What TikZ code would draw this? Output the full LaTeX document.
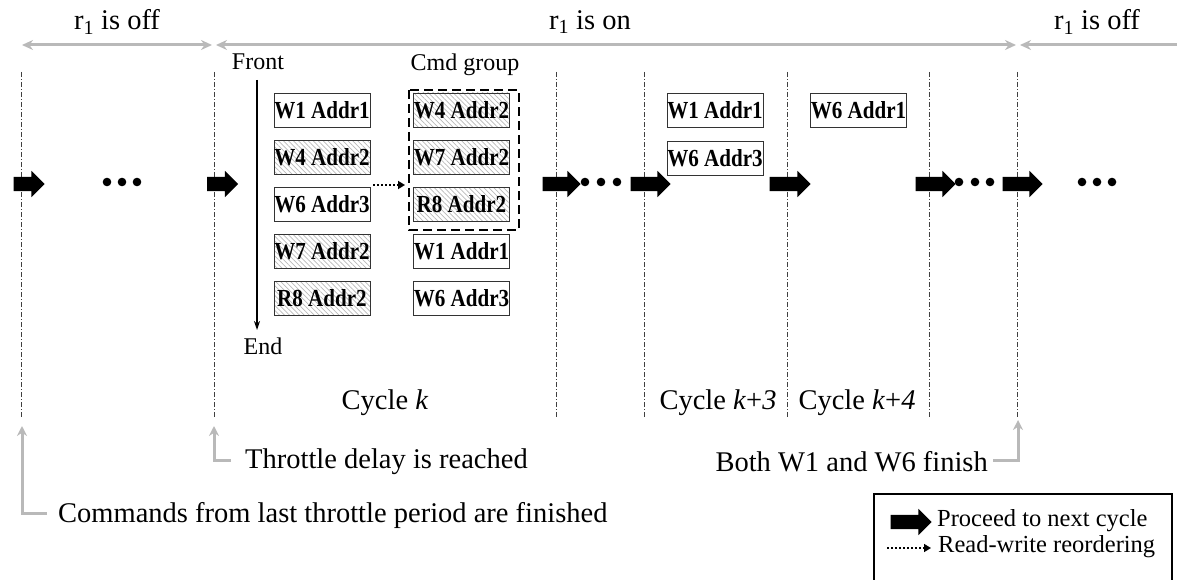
\documentclass[tikz,border=0pt]{standalone}
\usepackage{fontspec}
\setmainfont{Liberation Serif}
\newfontfamily\boxfont[FakeStretch=0.86]{Liberation Serif}
\usetikzlibrary{shapes.arrows,patterns.meta,arrows.meta}
\begin{document}
\begin{tikzpicture}[x=1pt,y=-1pt,
 every node/.style={inner sep=0pt},
 vline/.style={draw=black!75,line width=0.8pt,dash pattern=on 5pt off 2pt on 1pt off 2pt},
 span/.style={draw=gray!55,line width=3pt},
 tipg/.tip={Stealth[length=11pt,width=10pt]},
 lline/.style={draw=gray!55,line width=3pt,-{Stealth[length=10pt,width=10pt]}},
 fatarrow/.style={single arrow, fill=black, draw=none, minimum height=#1, minimum width=26pt,
   text height=7pt, text depth=7pt, text width=0pt,
   single arrow head extend=6pt, single arrow head indent=0pt, inner sep=0pt},
 cmd/.style={draw=black!80, line width=0.9pt, fill=white, minimum width=96pt, minimum height=34pt,
   font=\boxfont\fontsize{24.5}{26}\selectfont\bfseries},
 hatch/.style={cmd, pattern={Lines[angle=-45,distance=3.5pt,line width=0.7pt]}, pattern color=gray!55},
 main/.style={font=\fontsize{28.5}{30}\selectfont},
 small/.style={font=\fontsize{24}{26}\selectfont},
 leg/.style={font=\fontsize{24.5}{26}\selectfont},
 dotarrow/.style={line width=1.8pt, dash pattern=on 2pt off 2pt, -{Triangle[length=7pt,width=8pt]}},
 dot/.style={fill=black}
]
\useasboundingbox (0,0) rectangle (1177,580);

% top state labels
\node[main] (off1) at (117,22) {r\textsubscript{1} is off};
\node[main] (on)   at (590,22) {r\textsubscript{1} is on};
\node[main] (off2) at (1097,22) {r\textsubscript{1} is off};

\coordinate (s1a) at (22,45);  \coordinate (s1b) at (212,45);
\coordinate (s2a) at (216,45); \coordinate (s2b) at (1016,45);
\coordinate (s3a) at (1020,45); \coordinate (s3b) at (1180,45);
\draw[span,tipg-tipg] (s1a) -- (s1b);
\draw[span,tipg-tipg] (s2a) -- (s2b);
\draw[span,tipg-] (s3a) -- (s3b);

% vertical cycle boundaries
\foreach \x/\n in {21/v1,214/v2,556/v3,644/v4,787/v5,929/v6,1017/v7}{
  \coordinate (\n t) at (\x,72); \coordinate (\n b) at (\x,417);
  \draw[vline] (\n t) -- (\n b);
}

% proceed arrows
\node[fatarrow=31] (a1) at (25.5,184) {};
\node[fatarrow=31] (a2) at (219,184) {};
\node[fatarrow=38] (a3) at (558,184) {};
\node[fatarrow=40] (a4) at (647,184) {};
\node[fatarrow=41] (a5) at (786.5,184) {};
\node[fatarrow=40] (a6) at (932,184) {};
\node[fatarrow=40] (a7) at (1019,184) {};

% ellipsis dots
\foreach \x in {107,122,137,585,601,617,959,975,990,1082,1097,1112}{
  \fill[dot] (\x,182) circle (4.3pt);
}

% queue column 1
\node[small] (front) at (258,62) {Front};
\node[small] (end) at (263,346) {End};
\coordinate (fa) at (257,80);
\coordinate (fb) at (257,330);
\draw[line width=1.3pt,-{Stealth[length=9pt,width=6pt]}] (fa) -- (fb);

\node[cmd]   (q1) at (322,110) {W1 Addr1};
\node[hatch] (q2) at (322,157.5) {W4 Addr2};
\node[cmd]   (q3) at (322,204.5) {W6 Addr3};
\node[hatch] (q4) at (322,251) {W7 Addr2};
\node[hatch] (q5) at (322,298.5) {R8 Addr2};

% reordered column 2
\node[small] (cg) at (465,65) {Cmd group};
\node[hatch] (p1) at (461.5,110) {W4 Addr2};
\node[hatch] (p2) at (461.5,157.5) {W7 Addr2};
\node[hatch] (p3) at (461.5,204.5) {R8 Addr2};
\node[cmd]   (p4) at (461.5,251) {W1 Addr1};
\node[cmd]   (p5) at (461.5,298.5) {W6 Addr3};
\draw[line width=1.6pt, dash pattern=on 9pt off 5pt] (409,90) rectangle (519,230);

\coordinate (ro1) at (373,185);
\coordinate (ro2) at (405,185);
\draw[dotarrow] (ro1) -- (ro2);

% later cycles
\node[cmd] (c1) at (715,110.5) {W1 Addr1};
\node[cmd] (c2) at (715,158) {W6 Addr3};
\node[cmd] (d1) at (858.5,110.5) {W6 Addr1};

% cycle labels
\node[main] (ck)  at (385,403) {Cycle \textit{k}};
\node[main] (ck3) at (718,403) {Cycle \textit{k}+\textit{3}};
\node[main] (ck4) at (857,403) {Cycle \textit{k}+\textit{4}};

% annotations
\node[main,anchor=west] (tA) at (58,515) {Commands from last throttle period are finished};
\node[main,anchor=west] (tB) at (245,462) {Throttle delay is reached};
\node[main,anchor=east] (tC) at (988,462) {Both W1 and W6 finish};
\coordinate (lA) at (47,513);  \coordinate (uA) at (22,426);
\coordinate (lB) at (231,460); \coordinate (uB) at (214,426);
\coordinate (lC) at (993,460); \coordinate (uC) at (1018,420);
\draw[lline] (lA) -| (uA);
\draw[lline] (lB) -| (uB);
\draw[lline] (lC) -| (uC);

% legend
\draw[line width=1.2pt] (874,494) rectangle (1172,600);
\node[fatarrow=41] (la) at (907.5,522) {};
\node[leg,anchor=west] (lt1) at (937,521) {Proceed to next cycle};
\coordinate (ld1) at (887,548);
\coordinate (ld2) at (931,548);
\draw[dotarrow,line width=1.6pt] (ld1) -- (ld2);
\node[leg,anchor=west] (lt2) at (938,547) {Read-write reordering};
\end{tikzpicture}
\end{document}
